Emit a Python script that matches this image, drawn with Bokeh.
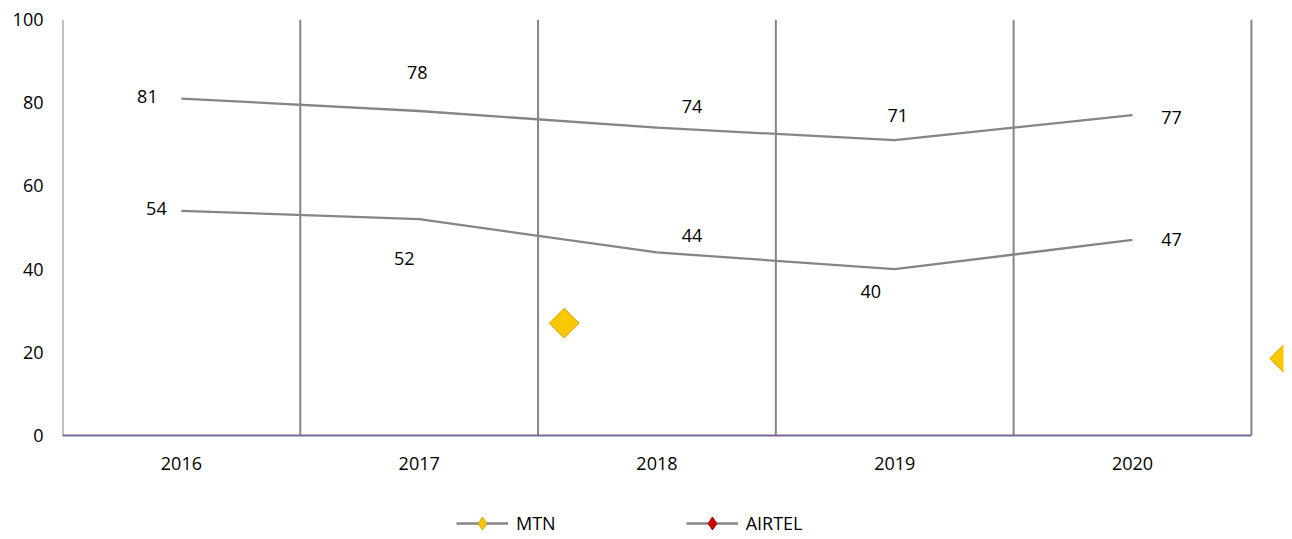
import math
from bokeh.plotting import figure
from bokeh.models import Range1d, FixedTicker, Legend, LegendItem, ColumnDataSource
from bokeh.embed import file_html
from bokeh.resources import INLINE
from bokeh.core.properties import value

years = ["2016", "2017", "2018", "2019", "2020"]
mtn = [81, 78, 74, 71, 77]
airtel = [54, 52, 44, 40, 47]
y_ticks = [0, 20, 40, 60, 80, 100]
# stray decorative markers seen in the chart (category position, value)
stray_x = [2.61, 5.64]
stray_y = [27, 18.5]

FONT = "Open Sans"
FS = "18px"
GRAY = "#858585"
GOLD = "#F9C800"
GOLD_LINE = "#DDA200"
RED = "#D40000"
RED_LINE = "#A00000"

n = len(years)
xs = list(range(1, n + 1))

p = figure(width=1292, height=539, output_backend="svg", toolbar_location=None,
           x_range=Range1d(0.5, 5.635), y_range=Range1d(-25, 100),
           min_border_left=62, min_border_right=9, min_border_top=19, min_border_bottom=0)
p.outline_line_color = None
p.background_fill_color = "white"
p.border_fill_color = "white"

# y axis: labels only
p.yaxis.ticker = FixedTicker(ticks=y_ticks)
p.yaxis.axis_line_color = None
p.yaxis.major_tick_line_color = None
p.yaxis.major_tick_out = 0
p.yaxis.major_tick_in = 0
p.yaxis.minor_tick_line_color = None
p.yaxis.major_label_text_font = FONT
p.yaxis.major_label_text_font_size = FS
p.yaxis.major_label_text_color = "#000000"
p.yaxis.major_label_standoff = 19
p.xaxis.visible = False

p.xgrid.grid_line_color = None
p.ygrid.grid_line_color = None

# vertical category-boundary gridlines
bounds = [i + 0.5 for i in range(0, n + 1)]
p.segment(x0=bounds, y0=[0] * len(bounds), x1=bounds, y1=[100] * len(bounds),
          line_color=GRAY, line_width=2)
# category axis line
p.segment(x0=[0.5], y0=[0], x1=[n + 0.5], y1=[0], line_color="#8064A2", line_width=2)

# category labels
p.text(x=xs, y=[0] * n, text=years, y_offset=28,
       text_font=value(FONT), text_font_size=FS, text_color="#000000",
       text_align="center", text_baseline="middle")

# series lines
p.line(xs, mtn, line_color=GRAY, line_width=2.3)
p.line(xs, airtel, line_color=GRAY, line_width=2.3)

# data labels
mtn_dx = [-34, -2, 35, 3, 39]
mtn_dy = [-2, -39, -21, -25, 2]
air_dx = [-25, -15, 35, -24, 39]
air_dy = [-2, 39, -17, 22, 0]
lab = ColumnDataSource(dict(
    x=xs + xs,
    y=mtn + airtel,
    t=[str(v) for v in mtn + airtel],
    dx=mtn_dx + air_dx,
    dy=mtn_dy + air_dy,
))
p.text(x="x", y="y", text="t", x_offset="dx", y_offset="dy", source=lab,
       text_font=value(FONT), text_font_size=FS, text_color="#000000",
       text_align="center", text_baseline="middle")

# stray markers
p.scatter(stray_x, stray_y, marker="square", angle=math.pi / 4, size=21,
          fill_color=GOLD, line_color=GOLD_LINE, line_width=1)

# legend proxies (placed outside the visible ranges)
hx, hy = [-10, -9], [-500, -500]
l1 = p.line(hx, hy, line_color=GRAY, line_width=2.3)
s1 = p.scatter(hx, hy, marker="diamond", size=16,
               fill_color=GOLD, line_color=GOLD_LINE)
l2 = p.line(hx, hy, line_color=GRAY, line_width=2.3)
s2 = p.scatter(hx, hy, marker="diamond", size=16,
               fill_color=RED, line_color=RED_LINE)

legend = Legend(items=[LegendItem(label="MTN", renderers=[l1, s1], index=0),
                       LegendItem(label="AIRTEL", renderers=[l2, s2], index=0)],
                orientation="horizontal", location=(394, 0),
                glyph_width=52, glyph_height=32, spacing=130,
                label_text_font=FONT, label_text_font_size="18px",
                label_text_color="#000000", label_standoff=8,
                border_line_color=None, background_fill_alpha=0,
                padding=0, margin=0)
p.add_layout(legend, "center")

open("out.html", "w").write(file_html(p, INLINE))
